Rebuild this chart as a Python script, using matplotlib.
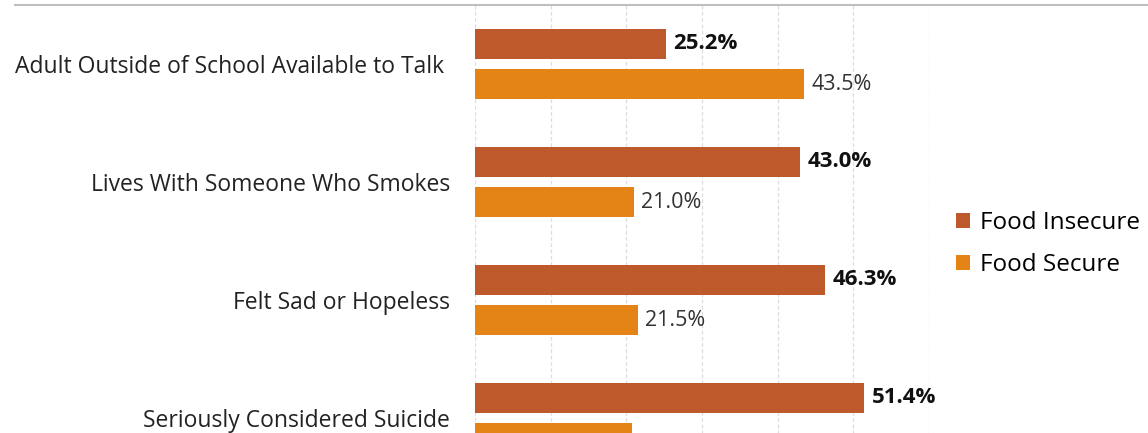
import numpy as np
import matplotlib.pyplot as plt
from matplotlib.lines import Line2D

categories = ["Adult Outside of School Available to Talk ",
              "Lives With Someone Who Smokes",
              "Felt Sad or Hopeless",
              "Seriously Considered Suicide"]
food_insecure = [25.2, 43.0, 46.3, 51.4]
food_secure = [43.5, 21.0, 21.5, 20.7]
series_names = ["Food Insecure", "Food Secure"]
colors = ["#BE592C", "#E48416"]

plt.rcParams['font.family'] = ['Open Sans', 'DejaVu Sans']

W, H = 1148, 433
fig = plt.figure(figsize=(W / 100, H / 100), dpi=100)

# axes runs past the bottom edge, the reference is cropped there
left, right, top, bottom = 475, 929, 5, 477
ax = fig.add_axes([left / W, 1 - bottom / H, (right - left) / W, (bottom - top) / H])

y = np.arange(len(categories))
off = 0.17
h = 0.255
ax.barh(y - off, food_insecure, height=h, color=colors[0], label=series_names[0], zorder=3)
ax.barh(y + off, food_secure, height=h, color=colors[1], label=series_names[1], zorder=3)

for i in range(len(categories)):
    ax.text(food_insecure[i] + 1.0, y[i] - off, f"{food_insecure[i]:.1f}%", va='center', ha='left',
            fontsize=16, fontweight='bold', color='#111111')
    # last secure label falls below the cropped edge in the reference
    if y[i] + off < 3:
        ax.text(food_secure[i] + 1.0, y[i] + off, f"{food_secure[i]:.1f}%", va='center', ha='left',
                fontsize=15.5, color='#333333')

ax.set_xlim(0, 60)
ax.set_ylim(len(categories) - 0.5, -0.5)
ax.set_xticks(np.arange(0, 61, 10))
ax.xaxis.grid(True, color='#dddddd', linestyle=(0, (3, 2)), linewidth=0.9, zorder=0)
ax.set_yticks(y)
ax.set_yticklabels(categories, fontsize=16.5, color='#222222')
ax.tick_params(axis='y', length=0, pad=18)
ax.tick_params(axis='x', length=0, labelbottom=False)
for s in ax.spines.values():
    s.set_visible(False)

# top border line
fig.add_artist(Line2D([15 / W, 1.0], [1 - 5 / H, 1 - 5 / H], color='#bfbfbf', linewidth=1.5))

fig.legend(loc='upper left', bbox_to_anchor=(934 / W, 1 - 189 / H), frameon=False,
           fontsize=17.5, handlelength=0.6, handleheight=0.6, handletextpad=0.4, labelspacing=0.75)

fig.savefig("out.png", dpi=100)
